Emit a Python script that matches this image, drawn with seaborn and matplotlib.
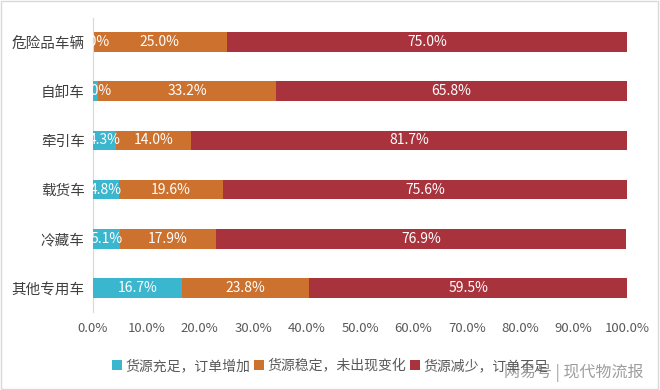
import pandas as pd
import matplotlib.pyplot as plt
import seaborn as sns

# data
categories = ['危险品车辆', '自卸车', '牵引车', '载货车', '冷藏车', '其他专用车']
series_names = ['货源充足，订单增加', '货源稳定，未出现变化', '货源减少，订单不足']
sufficient = [0.0, 1.0, 4.3, 4.8, 5.1, 16.7]
stable = [25.0, 33.2, 14.0, 19.6, 17.9, 23.8]
reduced = [75.0, 65.8, 81.7, 75.6, 76.9, 59.5]
colors = ['#3bb6cf', '#cc712e', '#a8333c']

sns.set_style('white')
plt.rcParams['font.family'] = ['Noto Sans CJK SC', 'DejaVu Sans']

df = pd.DataFrame({'category': categories,
                   series_names[0]: sufficient,
                   series_names[1]: stable,
                   series_names[2]: reduced})

fig = plt.figure(figsize=(6.6, 3.9), dpi=100)
ax = fig.add_axes([0.141, 0.199, 0.809, 0.756])

# stacked bars: draw cumulative totals, longest first underneath
left = pd.Series([0.0] * len(df))
for k, (name, color) in enumerate(zip(series_names, colors)):
    sns.barplot(data=df, y='category', x=left + df[name], color=color,
                orient='h', width=0.4, ax=ax, label=name, saturation=1,
                linewidth=0, zorder=3 - k)
    for i, v in enumerate(df[name]):
        ax.text(left[i] + v / 2, i, f'{v:.1f}%', ha='center', va='center',
                color='white', fontsize=10, zorder=5, clip_on=True)
    left = left + df[name]

if ax.get_legend() is not None:
    ax.get_legend().remove()

ax.set_xlim(0, 100)
ax.set_ylim(5.5, -0.5)
ax.set_xticks(range(0, 101, 10))
ax.set_xticklabels([f'{t:.1f}%' for t in range(0, 101, 10)])
ax.set_xlabel('')
ax.set_ylabel('')
ax.tick_params(axis='x', colors='#595959', labelsize=9.5, length=0, pad=7)
ax.tick_params(axis='y', colors='#404040', labelsize=10.5, length=0, pad=6)
for s in ['top', 'right', 'bottom']:
    ax.spines[s].set_visible(False)
ax.spines['left'].set_color('#d9d9d9')

handles, labels = ax.get_legend_handles_labels()
fig.legend(handles[:3], labels[:3], loc='center', bbox_to_anchor=(0.50, 0.062),
           ncol=3, frameon=False, fontsize=10, handlelength=0.7, handleheight=0.7,
           handletextpad=0.25, columnspacing=0.3, labelcolor='#595959')

# watermark
fig.text(0.975, 0.045, '网易号 | 现代物流报', ha='right', va='center',
         fontsize=11.5, color='#8c8c8c', alpha=0.85)

# light frame around the picture
fig.patches.append(plt.Rectangle((0.002, 0.003), 0.995, 0.994, transform=fig.transFigure,
                                 fill=False, edgecolor='#d9d9d9', linewidth=1))

fig.savefig('out.png', dpi=100)
